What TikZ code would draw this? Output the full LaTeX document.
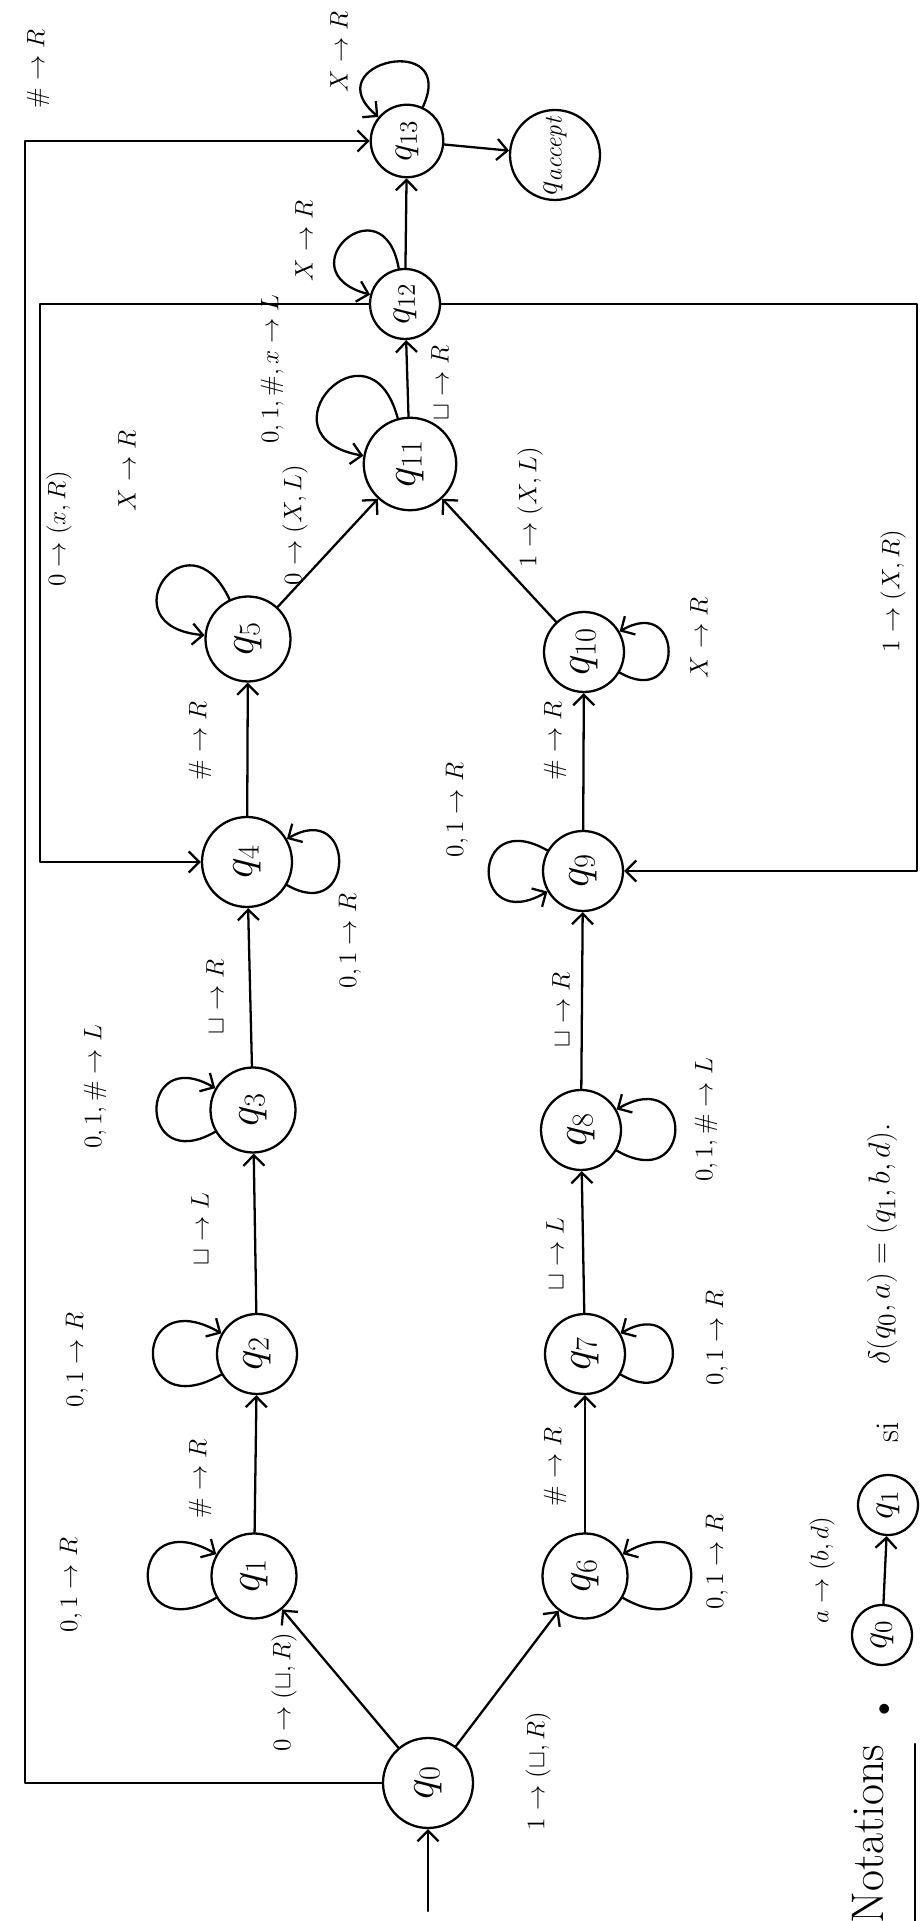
\documentclass[tikz,border=0pt]{standalone}
\usetikzlibrary{arrows.meta}
\begin{document}
\begin{tikzpicture}[x=0.02cm,y=0.02cm,
  line width=1.3pt, line cap=round, line join=round,
  >={Straight Barb[length=6pt,width=12pt]},
  st/.style={draw,circle,inner sep=0pt,minimum size=#1},
  st/.default=1.7cm,
  lab/.style={rotate=90,inner sep=1pt,font=\fontsize{15.5}{19}\selectfont},
  big/.style={lab,font=\fontsize{27}{31}\selectfont},
  mid/.style={lab,font=\fontsize{22}{26}\selectfont},
  lp/.style={->,min distance=#1},
  lp/.default=2cm]
\useasboundingbox (0,0) rectangle (923,1921);
\fill[white] (0,0) rectangle (923,1921);

% states
\node[st=1.8cm] (q0) at (428,138) {};
\node[st=1.7cm] (q1) at (254,345) {};
\node[st=1.6cm] (q2) at (257,567) {};
\node[st=1.7cm] (q3) at (253,811) {};
\node[st=1.8cm] (q4) at (247,1059) {};
\node[st=1.7cm] (q5) at (248,1282) {};
\node[st=1.7cm] (q6) at (585,345) {};
\node[st=1.6cm] (q7) at (585,567) {};
\node[st=1.6cm] (q8) at (581,791) {};
\node[st=1.6cm] (q9) at (583,1050) {};
\node[st=1.6cm] (q10) at (584,1269) {};
\node[st=1.85cm] (q11) at (410,1457) {};
\node[st=1.4cm] (q12) at (405,1617) {};
\node[st=1.45cm] (q13) at (407,1780) {};
\node[st=1.8cm] (qa) at (555,1766) {};

% state names
\node[big] (t0) at (428,138) {$q_{0}$};
\node[big] (t1) at (254,345) {$q_{1}$};
\node[big] (t2) at (257,567) {$q_{2}$};
\node[big] (t3) at (253,811) {$q_{3}$};
\node[big] (t4) at (247,1059) {$q_{4}$};
\node[big] (t5) at (248,1282) {$q_{5}$};
\node[big] (t6) at (585,345) {$q_{6}$};
\node[big] (t7) at (585,567) {$q_{7}$};
\node[big] (t8) at (581,791) {$q_{8}$};
\node[big] (t9) at (583,1050) {$q_{9}$};
\node[big] (t10) at (584,1269) {$q_{10}$};
\node[big] (t11) at (410,1457) {$q_{11}$};
\node[mid] (t12) at (405,1617) {$q_{12}$};
\node[mid] (t13) at (407,1780) {$q_{13}$};
\node[lab,font=\fontsize{19}{23}\selectfont] (ta) at (555,1766) {$q_{\mathit{accept}}$};

% initial arrow
\coordinate (init) at (428,10);
\draw[->] (init) -- (q0);

% main edges
\draw[->] (q0) -- (q1);
\draw[->] (q0) -- (q6);
\draw[->] (q1) -- (q2);
\draw[->] (q2) -- (q3);
\draw[->] (q3) -- (q4);
\draw[->] (q4) -- (q5);
\draw[->] (q5) -- (q11);
\draw[->] (q6) -- (q7);
\draw[->] (q7) -- (q8);
\draw[->] (q8) -- (q9);
\draw[->] (q9) -- (q10);
\draw[->] (q10) -- (q11);
\draw[->] (q11) -- (q12);
\draw[->] (q12) -- (q13);
\draw[->] (q13) -- (qa);

% long connectors
\coordinate (ox) at (25,900);
\coordinate (ix) at (40,1300);
\coordinate (rx) at (917,1300);
\draw[->] (q0.west) -| (ox) |- (q13.west);
\draw[->] (q12.west) -| (ix) |- (q4.west);
\draw[->] (q12.east) -| (rx) |- (q9.east);

% loops
\draw[lp=2.1cm] (q1) to[out=210,in=150] (q1);
\draw[lp=2.1cm] (q2) to[out=210,in=150] (q2);
\draw[lp=1.8cm] (q3) to[out=210,in=150] (q3);
\draw[lp=1.6cm] (q4) to[out=-30,in=30] (q4);
\draw[lp=2.0cm] (q5) to[out=115,in=175] (q5);
\draw[lp=2.1cm] (q6) to[out=-30,in=30] (q6);
\draw[lp=1.6cm] (q7) to[out=-30,in=30] (q7);
\draw[lp=1.8cm] (q8) to[out=-30,in=30] (q8);
\draw[lp=1.8cm] (q9) to[out=150,in=210] (q9);
\draw[lp=1.5cm] (q10) to[out=-30,in=30] (q10);
\draw[lp=2.2cm] (q11) to[out=105,in=170] (q11);
\draw[lp=1.8cm] (q12) to[out=100,in=165] (q12);
\draw[lp=1.7cm] (q13) to[out=65,in=140] (q13);

% labels
\node[lab] (l01) at (284,229) {$0\to(\sqcup,R)$};
\node[lab] (l06) at (538,150) {$1\to(\sqcup,R)$};
\node[lab] (l1) at (71,336) {$0,1\to R$};
\node[lab] (l2) at (77,561) {$0,1\to R$};
\node[lab] (l3) at (95,834) {$0,1,\#\to L$};
\node[lab] (l12) at (200,442) {$\#\to R$};
\node[lab] (l23) at (200,692) {$\sqcup\to L$};
\node[lab] (l34) at (215,924) {$\sqcup\to R$};
\node[lab] (l4) at (350,980) {$0,1\to R$};
\node[lab] (l45) at (200,1180) {$\#\to R$};
\node[lab] (l5) at (127,1450) {$X\to R$};
\node[lab] (l511) at (295,1396) {$0\to(X,L)$};
\node[lab] (l1011) at (530,1414) {$1\to(X,L)$};
\node[lab] (l11) at (272,1552) {$0,1,\#,x\to L$};
\node[lab] (l1112) at (440,1538) {$\sqcup\to R$};
\node[lab] (l12s) at (304,1680) {$X\to R$};
\node[lab] (l13s) at (339,1869) {$X\to R$};
\node[lab] (lout) at (38,1852) {$\#\to R$};
\node[lab] (lin) at (59,1392) {$0\to(x,R)$};
\node[lab] (lright) at (893,1330) {$1\to(X,R)$};
\node[lab] (l6) at (717,359) {$0,1\to R$};
\node[lab] (l67) at (555,454) {$\#\to R$};
\node[lab] (l7) at (717,583) {$0,1\to R$};
\node[lab] (l78) at (555,667) {$\sqcup\to L$};
\node[lab] (l8) at (706,801) {$0,1,\#\to L$};
\node[lab] (l89) at (561,911) {$\sqcup\to R$};
\node[lab] (l9) at (457,1111) {$0,1\to R$};
\node[lab] (l910) at (555,1180) {$\#\to R$};
\node[lab] (l10) at (699,1283) {$X\to R$};

% notations
\node[lab,font=\fontsize{26}{30}\selectfont] (nt) at (868,87) {Notations};
\coordinate (u1) at (915,0);
\coordinate (u2) at (915,177);
\draw (u1) -- (u2);
\node[lab] (bul) at (885,212) {$\bullet$};
\node[st=1.2cm] (n0) at (882,286) {};
\node[st=1.2cm] (n1) at (888,416) {};
\node[lab,font=\fontsize{20}{24}\selectfont] (tn0) at (882,286) {$q_{0}$};
\node[lab,font=\fontsize{20}{24}\selectfont] (tn1) at (888,416) {$q_{1}$};
\draw[->] (n0) -- (n1);
\node[lab,font=\fontsize{15}{18}\selectfont] (nlb) at (822,351) {$a\to(b,d)$};
\node[lab,font=\fontsize{19}{23}\selectfont] (si) at (888,489) {si};
\node[lab,font=\fontsize{19}{23}\selectfont] (dl) at (882,677) {$\delta(q_0,a)=(q_1,b,d).$};
\end{tikzpicture}
\end{document}
